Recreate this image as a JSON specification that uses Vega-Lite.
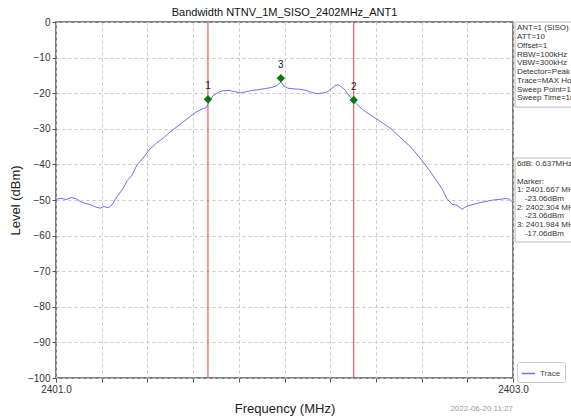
{
  "$schema": "https://vega.github.io/schema/vega-lite/v6.json",
  "width": 457,
  "height": 356,
  "autosize": {"type": "none"},
  "padding": {"left": 56, "top": 22, "right": 58, "bottom": 41},
  "background": "white",
  "config": {
    "font": "Liberation Sans",
    "view": {"stroke": "#555555", "strokeWidth": 1.5},
    "axis": {"labelFont": "Liberation Sans", "titleFont": "Liberation Sans", "labelColor": "#333", "titleColor": "#222", "titleFontWeight": "normal", "domainColor": "#555", "tickColor": "#555", "gridColor": "#c8c8c8", "gridDash": [3, 3], "labelOverlap": false}
  },
  "title": {"text": "Bandwidth NTNV_1M_SISO_2402MHz_ANT1", "fontSize": 11, "fontWeight": "normal", "font": "Liberation Sans", "offset": -1, "color": "#111"},
  "datasets": {
    "trace": [
      {"f": 2401.000, "l": -49.8}, {"f": 2401.022, "l": -49.5}, {"f": 2401.044, "l": -49.9}, {"f": 2401.066, "l": -49.3},
      {"f": 2401.088, "l": -49.6}, {"f": 2401.105, "l": -50.4}, {"f": 2401.127, "l": -50.9}, {"f": 2401.149, "l": -51.3},
      {"f": 2401.171, "l": -51.9}, {"f": 2401.193, "l": -52.3}, {"f": 2401.210, "l": -51.8}, {"f": 2401.228, "l": -52.2},
      {"f": 2401.245, "l": -51.4}, {"f": 2401.258, "l": -50.0}, {"f": 2401.276, "l": -48.3}, {"f": 2401.293, "l": -46.8},
      {"f": 2401.311, "l": -44.6}, {"f": 2401.333, "l": -43.0}, {"f": 2401.354, "l": -40.2}, {"f": 2401.381, "l": -38.2},
      {"f": 2401.411, "l": -35.7}, {"f": 2401.442, "l": -33.9}, {"f": 2401.468, "l": -32.7}, {"f": 2401.499, "l": -30.9},
      {"f": 2401.530, "l": -29.4}, {"f": 2401.560, "l": -27.9}, {"f": 2401.586, "l": -26.6}, {"f": 2401.613, "l": -25.3},
      {"f": 2401.639, "l": -24.5}, {"f": 2401.656, "l": -24.1}, {"f": 2401.670, "l": -22.6}, {"f": 2401.687, "l": -20.7},
      {"f": 2401.709, "l": -19.8}, {"f": 2401.731, "l": -19.3}, {"f": 2401.757, "l": -19.2}, {"f": 2401.783, "l": -19.6},
      {"f": 2401.810, "l": -19.9}, {"f": 2401.836, "l": -19.5}, {"f": 2401.862, "l": -19.2}, {"f": 2401.888, "l": -19.0},
      {"f": 2401.915, "l": -18.7}, {"f": 2401.941, "l": -18.4}, {"f": 2401.963, "l": -18.0}, {"f": 2401.976, "l": -17.3},
      {"f": 2401.985, "l": -16.9}, {"f": 2401.998, "l": -18.0}, {"f": 2402.015, "l": -18.6}, {"f": 2402.042, "l": -18.8},
      {"f": 2402.068, "l": -18.9}, {"f": 2402.094, "l": -19.2}, {"f": 2402.120, "l": -19.8}, {"f": 2402.142, "l": -20.1},
      {"f": 2402.164, "l": -20.0}, {"f": 2402.186, "l": -19.7}, {"f": 2402.204, "l": -18.8}, {"f": 2402.221, "l": -17.9},
      {"f": 2402.234, "l": -17.6}, {"f": 2402.247, "l": -18.1}, {"f": 2402.265, "l": -19.1}, {"f": 2402.282, "l": -20.6},
      {"f": 2402.300, "l": -22.0}, {"f": 2402.322, "l": -23.5}, {"f": 2402.348, "l": -24.9}, {"f": 2402.374, "l": -26.0},
      {"f": 2402.405, "l": -27.3}, {"f": 2402.435, "l": -28.6}, {"f": 2402.466, "l": -30.0}, {"f": 2402.497, "l": -31.8},
      {"f": 2402.527, "l": -33.6}, {"f": 2402.558, "l": -35.5}, {"f": 2402.589, "l": -37.9}, {"f": 2402.615, "l": -40.0},
      {"f": 2402.641, "l": -42.3}, {"f": 2402.667, "l": -44.7}, {"f": 2402.689, "l": -46.8}, {"f": 2402.711, "l": -49.6},
      {"f": 2402.733, "l": -51.2}, {"f": 2402.755, "l": -51.5}, {"f": 2402.777, "l": -52.6}, {"f": 2402.794, "l": -51.9},
      {"f": 2402.816, "l": -51.4}, {"f": 2402.838, "l": -51.0}, {"f": 2402.860, "l": -50.7}, {"f": 2402.882, "l": -50.4},
      {"f": 2402.904, "l": -50.1}, {"f": 2402.926, "l": -49.9}, {"f": 2402.947, "l": -49.8}, {"f": 2402.965, "l": -49.6},
      {"f": 2402.982, "l": -49.7}, {"f": 2402.996, "l": -50.5}
    ],
    "markers": [
      {"f": 2401.665, "l": -21.7, "id": "1"},
      {"f": 2402.303, "l": -21.9, "id": "2"},
      {"f": 2401.984, "l": -15.8, "id": "3"}
    ],
    "vlines": [{"f": 2401.665}, {"f": 2402.303}],
    "info": [
      {"t": "ANT=1 (SISO)", "yy": -0.7}, {"t": "ATT=10", "yy": -3.15}, {"t": "Offset=1", "yy": -5.6},
      {"t": "RBW=100kHz", "yy": -8.05}, {"t": "VBW=300kHz", "yy": -10.5}, {"t": "Detector=Peak", "yy": -12.95},
      {"t": "Trace=MAX Hold", "yy": -15.4}, {"t": "Sweep Point=1001", "yy": -17.85}, {"t": "Sweep Time=1ms", "yy": -20.3},
      {"t": "6dB: 0.637MHz", "yy": -38.8}, {"t": "Marker:", "yy": -43.7}, {"t": "1: 2401.667 MHz", "yy": -46.15},
      {"t": "2: 2402.304 MHz", "yy": -51.05}, {"t": "3: 2401.984 MHz", "yy": -55.95}
    ],
    "infoSub": [
      {"t": "-23.06dBm", "yy": -48.6}, {"t": "-23.06dBm", "yy": -53.5}, {"t": "-17.06dBm", "yy": -58.4}
    ]
  },
  "layer": [
    {
      "data": {"name": "vlines"},
      "mark": {"type": "rule", "color": "#f03a3a", "strokeWidth": 1},
      "encoding": {
        "x": {"field": "f", "type": "quantitative", "scale": {"domain": [2401, 2403], "nice": false, "zero": false},
          "axis": {"title": "Frequency (MHz)", "titleFontSize": 13, "titlePadding": 8, "grid": true, "values": [2401.0, 2401.2, 2401.4, 2401.6, 2401.8, 2402.0, 2402.2, 2402.4, 2402.6, 2402.8, 2403.0],
            "labelExpr": "abs(datum.value-2401)<0.001 || abs(datum.value-2403)<0.001 ? format(datum.value,'.1f') : ''",
            "labelFlush": false, "labelFontSize": 10, "tickSize": 4, "domain": false}},
        "y": {"datum": 0, "type": "quantitative", "scale": {"domain": [-100, 0], "nice": false},
          "axis": {"title": "Level (dBm)", "titleFontSize": 13, "titlePadding": 5, "grid": true, "tickCount": 11, "values": [0, -10, -20, -30, -40, -50, -60, -70, -80, -90, -100], "labelOverlap": false, "labelFontSize": 10, "tickSize": 4, "domain": false}},
        "y2": {"datum": -100}
      }
    },
    {
      "data": {"name": "trace"},
      "mark": {"type": "line", "strokeWidth": 1, "interpolate": "linear"},
      "encoding": {
        "x": {"field": "f", "type": "quantitative"},
        "y": {"field": "l", "type": "quantitative"},
        "color": {"datum": "Trace", "type": "nominal", "scale": {"range": ["#6f6fff"]},
          "legend": {"title": null, "orient": "none", "legendX": 461, "legendY": 340, "symbolType": "stroke", "symbolSize": 180, "symbolStrokeWidth": 1.5, "labelFontSize": 8, "labelColor": "#444", "strokeColor": "#cccccc", "padding": 4, "cornerRadius": 2, "fillColor": "white"}}
      }
    },
    {
      "data": {"name": "markers"},
      "mark": {"type": "point", "shape": "diamond", "filled": true, "color": "#0b7a0b", "size": 70, "opacity": 1},
      "encoding": {
        "x": {"field": "f", "type": "quantitative"},
        "y": {"field": "l", "type": "quantitative"}
      }
    },
    {
      "data": {"name": "markers"},
      "mark": {"type": "text", "fontSize": 10, "dy": -8, "color": "#222", "baseline": "bottom"},
      "encoding": {
        "x": {"field": "f", "type": "quantitative"},
        "y": {"field": "l", "type": "quantitative"},
        "text": {"field": "id"}
      }
    },
    {
      "data": {"values": [{"a": 1}]},
      "mark": {"type": "rect", "fill": "white", "stroke": "#bbbbbb", "strokeWidth": 1, "clip": false},
      "encoding": {
        "x": {"datum": 2403.009, "type": "quantitative"},
        "x2": {"datum": 2403.3},
        "y": {"datum": 0, "type": "quantitative"},
        "y2": {"datum": -23.9}
      }
    },
    {
      "data": {"values": [{"a": 1}]},
      "mark": {"type": "rect", "fill": "white", "stroke": "#bbbbbb", "strokeWidth": 1, "clip": false},
      "encoding": {
        "x": {"datum": 2403.009, "type": "quantitative"},
        "x2": {"datum": 2403.3},
        "y": {"datum": -38.2, "type": "quantitative"},
        "y2": {"datum": -61.8}
      }
    },
    {
      "data": {"name": "info"},
      "mark": {"type": "text", "align": "left", "baseline": "top", "fontSize": 8, "color": "#333", "clip": false},
      "encoding": {
        "x": {"datum": 2403.017, "type": "quantitative"},
        "y": {"field": "yy", "type": "quantitative"},
        "text": {"field": "t"}
      }
    },
    {
      "data": {"name": "infoSub"},
      "mark": {"type": "text", "align": "left", "baseline": "top", "fontSize": 8, "dx": 8, "color": "#333", "clip": false},
      "encoding": {
        "x": {"datum": 2403.017, "type": "quantitative"},
        "y": {"field": "yy", "type": "quantitative"},
        "text": {"field": "t"}
      }
    },
    {
      "data": {"values": [{"t": "2022-06-20 11:27"}]},
      "mark": {"type": "text", "align": "right", "baseline": "middle", "fontSize": 8, "color": "#999", "clip": false},
      "encoding": {
        "x": {"datum": 2403.0, "type": "quantitative"},
        "y": {"datum": -108.6, "type": "quantitative"},
        "text": {"field": "t"}
      }
    }
  ]
}
